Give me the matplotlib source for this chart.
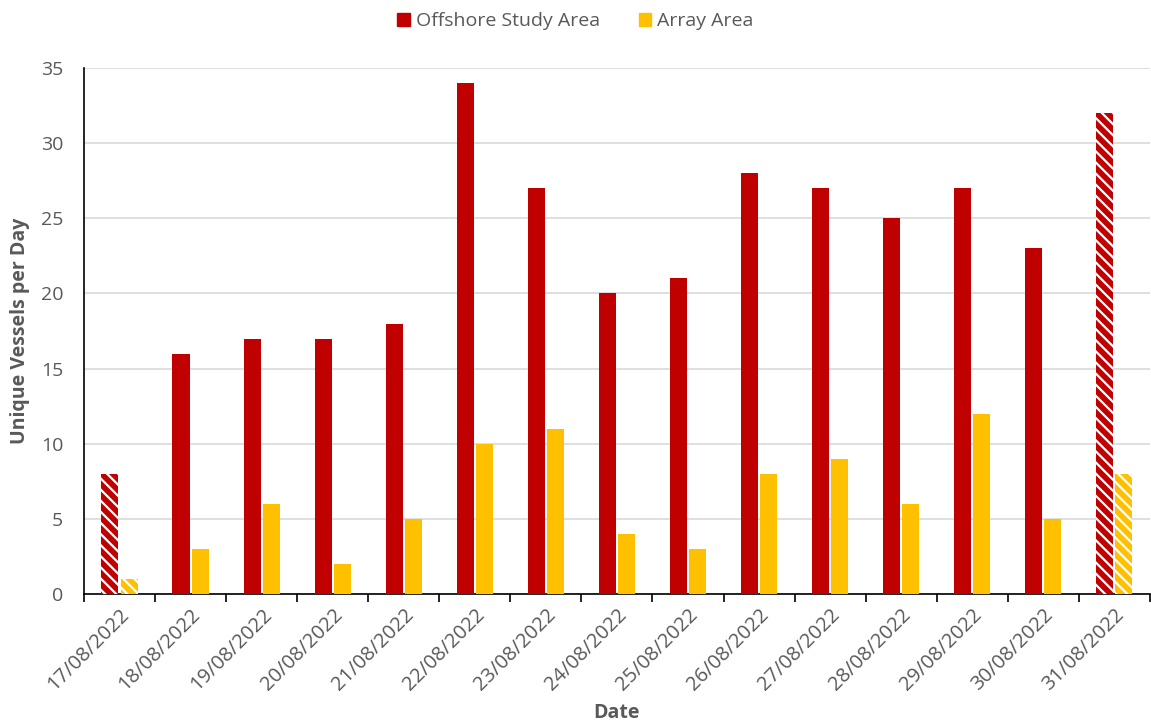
import numpy as np
import matplotlib.pyplot as plt

plt.rcParams["font.family"] = ["Open Sans", "DejaVu Sans"]
plt.rcParams["hatch.linewidth"] = 1.6

dates = ["17/08/2022", "18/08/2022", "19/08/2022", "20/08/2022", "21/08/2022",
         "22/08/2022", "23/08/2022", "24/08/2022", "25/08/2022", "26/08/2022",
         "27/08/2022", "28/08/2022", "29/08/2022", "30/08/2022", "31/08/2022"]
offshore = [8, 16, 17, 17, 18, 34, 27, 20, 21, 28, 27, 25, 27, 23, 32]
array_area = [1, 3, 6, 2, 5, 10, 11, 4, 3, 8, 9, 6, 12, 5, 8]
# first and last days are partial days (hatched)
partial = [True] + [False] * 13 + [True]

red = "#C00000"
yellow = "#FFC000"
grey = "#595959"

fig = plt.figure(figsize=(11.51, 7.28), dpi=100)
ax = fig.add_axes([0.073, 0.184, 0.926, 0.7226])

x = np.arange(len(dates))
w = 0.24
off = 0.135
for i in x:
    hatch = "\\\\\\" if partial[i] else None
    ax.bar(i - off, offshore[i], w, color=red, edgecolor="white",
           linewidth=0, hatch=hatch, zorder=3)
    ax.bar(i + off, array_area[i], w, color=yellow, edgecolor="white",
           linewidth=0, hatch=hatch, zorder=3)

ax.set_xlim(-0.5, len(dates) - 0.5)
ax.set_ylim(0, 35)
ax.set_yticks(range(0, 36, 5))
ax.yaxis.grid(True, color="#d9d9d9", linewidth=1.2, zorder=0)
ax.tick_params(axis="y", length=0, labelsize=14, labelcolor=grey, pad=15)

ax.set_xticks(np.arange(-0.5, len(dates), 1.0))
ax.set_xticklabels([])
ax.tick_params(axis="x", which="major", length=6, width=1.2, color="black")
ax.set_xticks(x, minor=True)
ax.set_xticklabels(dates, minor=True, rotation=45, ha="right",
                   rotation_mode="anchor", fontsize=14.5, color=grey)
ax.tick_params(axis="x", which="minor", length=0, pad=8)

for s in ["top", "right"]:
    ax.spines[s].set_visible(False)
ax.spines["left"].set_color("black")
ax.spines["bottom"].set_color("black")
ax.spines["left"].set_linewidth(1.2)
ax.spines["bottom"].set_linewidth(1.2)

ax.set_xlabel("Date", fontsize=14, fontweight="bold", color=grey, labelpad=6)
ax.set_ylabel("Unique Vessels per Day", fontsize=14, fontweight="bold",
              color=grey, labelpad=8)

h1 = plt.Rectangle((0, 0), 1, 1, color=red)
h2 = plt.Rectangle((0, 0), 1, 1, color=yellow)
fig.legend([h1, h2], ["Offshore Study Area", "Array Area"], loc="center",
           bbox_to_anchor=(0.5, 0.971), ncol=2, frameon=False, fontsize=14,
           labelcolor=grey, handlelength=0.65, handleheight=0.65,
           handletextpad=0.3, columnspacing=2.0)

fig.savefig("out.png", dpi=100)
